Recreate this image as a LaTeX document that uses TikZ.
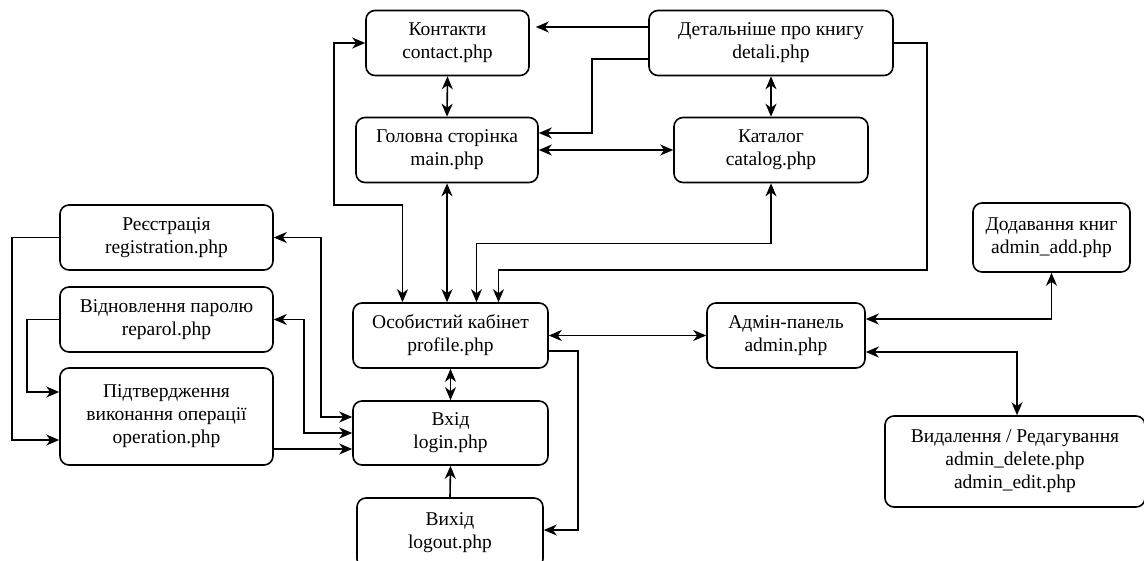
\documentclass[tikz,border=0pt]{standalone}
\usepackage{fontspec}
\setmainfont{Liberation Serif}
\usetikzlibrary{arrows.meta}

\begin{document}
\begin{tikzpicture}[x=1pt,y=-1pt,line width=1.6pt,
    pagebox/.style={draw,rounded corners=9pt,align=center,inner sep=0pt,
      minimum height=65pt,font=\fontsize{19.5}{23}\selectfont},
    >={Stealth[length=13pt,width=11pt,inset=4pt]}]
        \useasboundingbox (0,0) rectangle (1144,560);
        \node[pagebox,minimum width=163pt] at ( 447.5, 43)   (contact) {Контакти\\contact.php};
        \node[pagebox,minimum width=244pt] at ( 771,   43)   (detali)  {Детальніше про книгу\\detali.php};
        \node[pagebox,minimum width=182pt] at ( 447,  150)   (main)    {Головна сторінка\\main.php};
        \node[pagebox,minimum width=194pt] at ( 771,  150)   (catalog) {Каталог\\catalog.php};
        \node[pagebox,minimum width=213pt] at ( 166.5,237.5) (reg)     {Реєстрація\\registration.php};
        \node[pagebox,minimum width=213pt] at ( 166.5,319.5) (reparol) {Відновлення паролю\\reparol.php};
        \node[pagebox,minimum width=213pt,minimum height=97pt] at (166.5,416.5) (oper) {Підтвердження\\виконання операції\\operation.php};
        \node[pagebox,minimum width=195pt] at ( 450.5,335.5) (profile) {Особистий кабінет\\profile.php};
        \node[pagebox,minimum width=195pt,minimum height=64pt] at (450.5,433) (login) {Вхід\\login.php};
        \node[pagebox,minimum width=186pt,minimum height=70pt] at (450,533) (logout) {Вихід\\logout.php};
        \node[pagebox,minimum width=158pt] at ( 786,  335.5) (admin)   {Адмін-панель\\admin.php};
        \node[pagebox,minimum width=157pt,minimum height=69pt] at (1051.5,237.5) (add) {Додавання книг\\admin\_add.php};
        \node[pagebox,minimum width=260pt,minimum height=91pt] at (1015,461.5) (del) {Видалення / Редагування\\admin\_delete.php\\admin\_edit.php};
        % top part
        \draw[->] ([yshift=16pt]detali.west) -- ([yshift=16pt,xshift=6pt]contact.east);
        \draw[->] ([yshift=-16pt]detali.west) -- ++(-56pt,0pt) |- ([yshift=17pt]main.east);
        \draw[<->] (main.east) -- (catalog.west);
        \draw[<->] (contact.south) -- (main.north);
        \draw[<->] (detali.south) -- (catalog.north);
        % into profile
        \draw[<->] (contact.west) -- ++(-31pt,0pt) -- ++(0pt,-162pt) -| ([xshift=-48pt]profile.north);
        \draw[<->] (main.south) -- (main.south |- profile.north);
        \draw[<->] (catalog.south) -- ++(0pt,-60pt) -| ([xshift=26pt]profile.north);
        \draw[->] (detali.east) -- ++(33pt,0pt) -- ++(0pt,-227pt) -| ([xshift=48pt]profile.north);
        \draw[<->] (profile.south) -- (login.north);
        \draw[->] (logout.north) -- (login.south);
        \draw[->] ([yshift=-15.5pt]profile.east) -- ++(29pt,0pt) |- ([yshift=3pt]logout.east);
        % admin part
        \draw[<->] (profile.east) -- (admin.west);
        \draw[<->] ([yshift=16.5pt]admin.east) -| (add.south);
        \draw[<->] ([yshift=-16.5pt]admin.east) -| ([xshift=2pt]del.north);
        % left part
        \draw[<->] (reg.east) -- ++(47pt,0pt) |- ([yshift=16pt]login.west);
        \draw[<->] (reparol.east) -- ++(30pt,0pt) |- (login.west);
        \draw[->] ([yshift=-32.5pt]oper.east) -- ([yshift=-16pt]login.west);
        \draw[->] (reg.west) -- ++(-47pt,0pt) |- ([yshift=-23.5pt]oper.west);
        \draw[->] (reparol.west) -- ++(-32pt,0pt) |- ([yshift=24.5pt]oper.west);
      \end{tikzpicture}
\end{document}
